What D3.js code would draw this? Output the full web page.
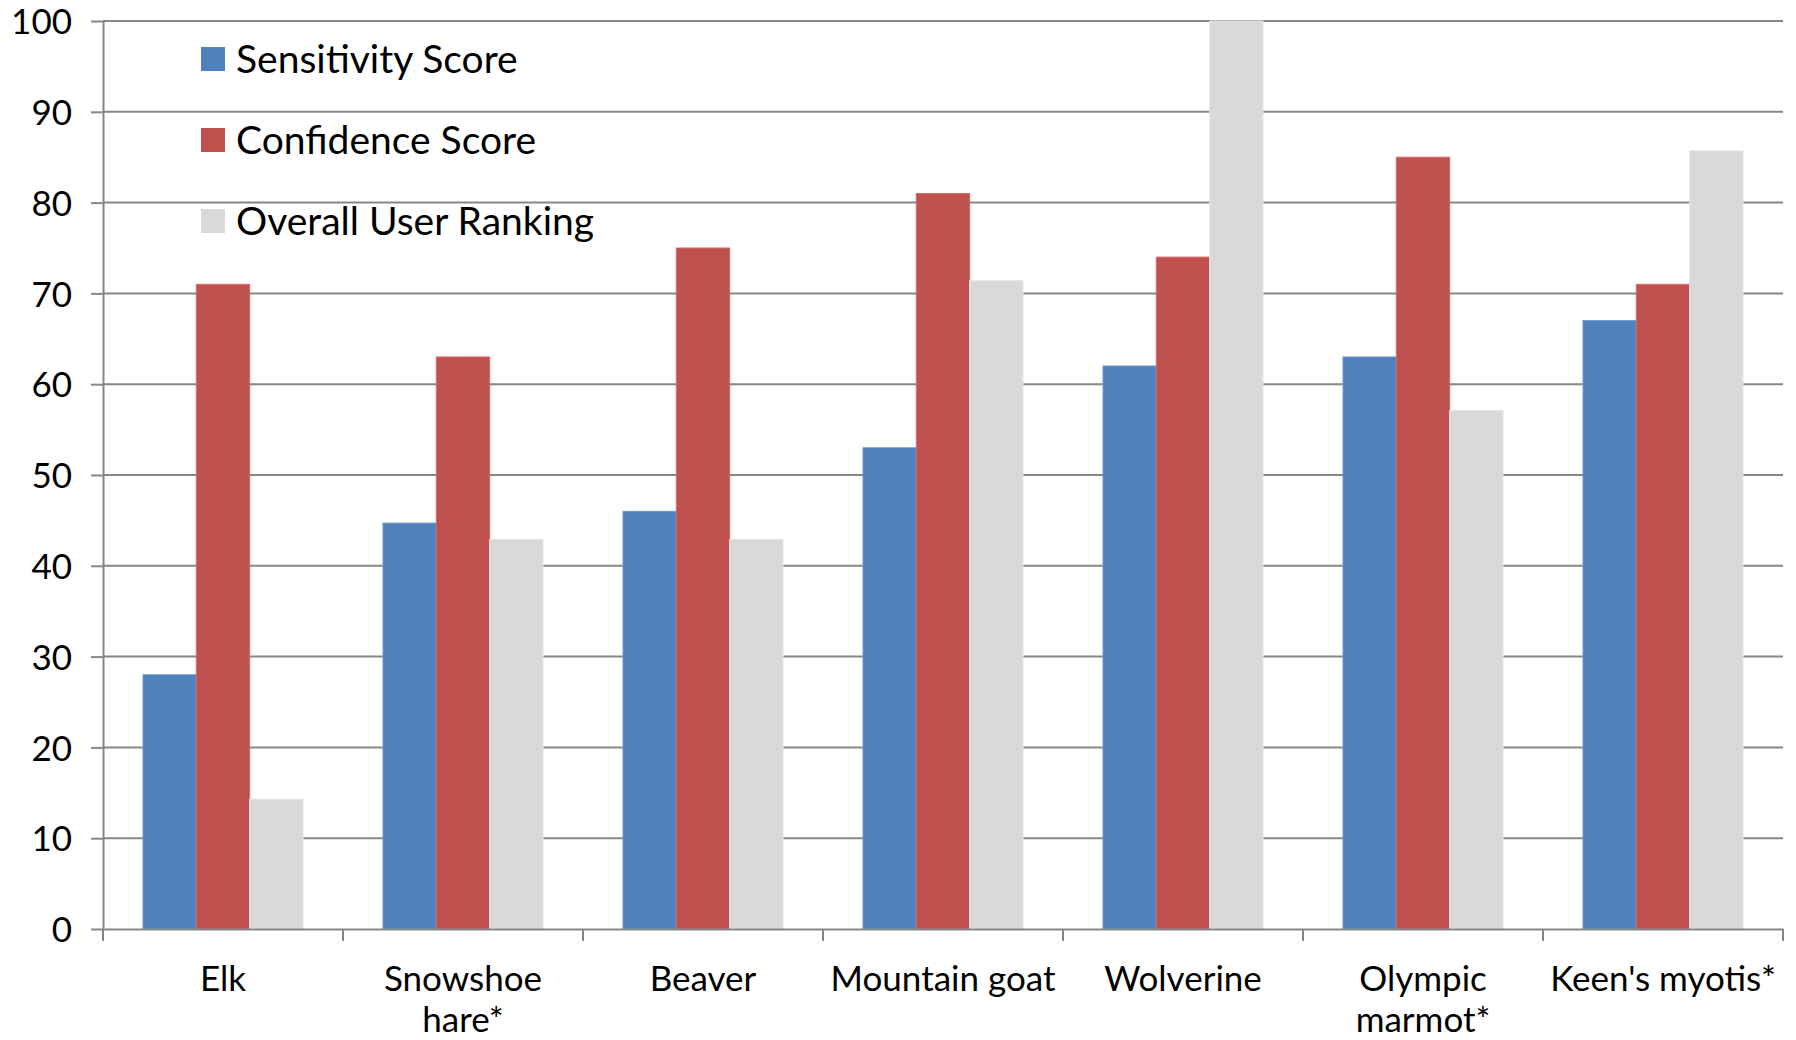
<!DOCTYPE html>
<html>
<head>
<meta charset="utf-8">
<script src="https://cdn.jsdelivr.net/npm/d3@7"></script>
<style>
  body { margin: 0; background: #fff; }
  svg text { font-family: Lato, "Open Sans", sans-serif; fill: #000; }
</style>
</head>
<body>
<div id="chart"></div>
<script>
// data
const species = ["Elk", "Snowshoe hare*", "Beaver", "Mountain goat", "Wolverine", "Olympic marmot*", "Keen's myotis*"];
const speciesLines = [["Elk"], ["Snowshoe", "hare*"], ["Beaver"], ["Mountain goat"], ["Wolverine"], ["Olympic", "marmot*"], ["Keen's myotis*"]];
const seriesNames = ["Sensitivity Score", "Confidence Score", "Overall User Ranking"];
const sensitivity = [28, 44.7, 46, 53, 62, 63, 67];
const confidence = [71, 63, 75, 81, 74, 85, 71];
const userRanking = [14.3, 42.9, 42.9, 71.4, 100, 57.1, 85.7];
const yTicks = [0, 10, 20, 30, 40, 50, 60, 70, 80, 90, 100];

const colors = ["#4F81BD", "#C0504D", "#D9D9D9"];
const strokes = ["#6b97cc", "#d46b68", "#e6e6e6"];

const width = 1796, height = 1040;
const margin = { top: 21, right: 13, bottom: 111, left: 103 };
const w = width - margin.left - margin.right;
const h = height - margin.top - margin.bottom;

const svg = d3.select("#chart").append("svg")
  .attr("width", width)
  .attr("height", height);

const g = svg.append("g")
  .attr("transform", "translate(" + margin.left + "," + margin.top + ")");

// scales
const x = d3.scaleBand().domain(species).range([0, w]).paddingInner(0).paddingOuter(0);
// excel gap width 150% -> 3 bars take 3/4.5 of the category
const x1 = d3.scaleBand().domain(seriesNames)
  .range([x.bandwidth() * 0.75 / 4.5, x.bandwidth() - x.bandwidth() * 0.75 / 4.5]);
const y = d3.scaleLinear().domain([0, 100]).range([h, 0]);

const gridColor = "#868686";

// gridlines
g.append("g")
  .selectAll("line")
  .data(yTicks.slice(1))
  .enter().append("line")
  .attr("x1", 0).attr("x2", w)
  .attr("y1", d => y(d)).attr("y2", d => y(d))
  .attr("stroke", gridColor)
  .attr("stroke-width", 2);

// bars
const rows = species.map((s, i) => ({ name: s, values: [sensitivity[i], confidence[i], userRanking[i]] }));

const groups = g.append("g").selectAll("g")
  .data(rows)
  .enter().append("g")
  .attr("transform", d => "translate(" + x(d.name) + ",0)");

groups.selectAll("rect")
  .data(d => d.values.map((v, k) => ({ key: seriesNames[k], k: k, v: v })))
  .enter().append("rect")
  .attr("x", d => x1(d.key))
  .attr("width", x1.bandwidth())
  .attr("y", d => y(d.v))
  .attr("height", d => h - y(d.v))
  .attr("fill", d => colors[d.k])
  .attr("stroke", d => strokes[d.k])
  .attr("stroke-width", 1);

// y axis
const yAxis = g.append("g")
  .call(d3.axisLeft(y).tickValues(yTicks).tickSize(12).tickSizeOuter(0).tickPadding(19));
yAxis.select(".domain").attr("stroke", gridColor).attr("stroke-width", 2);
yAxis.selectAll(".tick line").attr("stroke", gridColor).attr("stroke-width", 2);
yAxis.selectAll(".tick text")
  .style("font-size", "35px")
  .attr("dy", "0.36em");

// x axis
const xAxis = g.append("g")
  .attr("transform", "translate(0," + h + ")")
  .call(d3.axisBottom(x).tickSize(0).tickFormat(""));
xAxis.select(".domain").attr("stroke", gridColor).attr("stroke-width", 2);

// category separators
g.append("g")
  .selectAll("line")
  .data(d3.range(species.length + 1))
  .enter().append("line")
  .attr("x1", d => d * x.step()).attr("x2", d => d * x.step())
  .attr("y1", h).attr("y2", h + 12)
  .attr("stroke", gridColor)
  .attr("stroke-width", 2);

// category labels
const labels = g.append("g").selectAll("text")
  .data(speciesLines)
  .enter().append("text")
  .attr("text-anchor", "middle")
  .attr("transform", (d, i) => "translate(" + (x(species[i]) + x.bandwidth() / 2) + "," + (h + 62) + ")")
  .style("font-size", "35px");

labels.selectAll("tspan")
  .data(d => d)
  .enter().append("tspan")
  .attr("x", 0)
  .attr("dy", (d, i) => i === 0 ? 0 : 41)
  .text(d => d);

// legend
const legend = svg.append("g")
  .attr("transform", "translate(201,59)");

const legendItems = legend.selectAll("g")
  .data(seriesNames)
  .enter().append("g")
  .attr("transform", (d, i) => "translate(0," + (i * 81) + ")");

legendItems.append("rect")
  .attr("x", 0).attr("y", -12)
  .attr("width", 24).attr("height", 24)
  .attr("fill", (d, i) => colors[i]);

legendItems.append("text")
  .attr("x", 35)
  .attr("y", 0)
  .attr("dy", "0.36em")
  .style("font-size", "39px")
  .text(d => d);
</script>
</body>
</html>
